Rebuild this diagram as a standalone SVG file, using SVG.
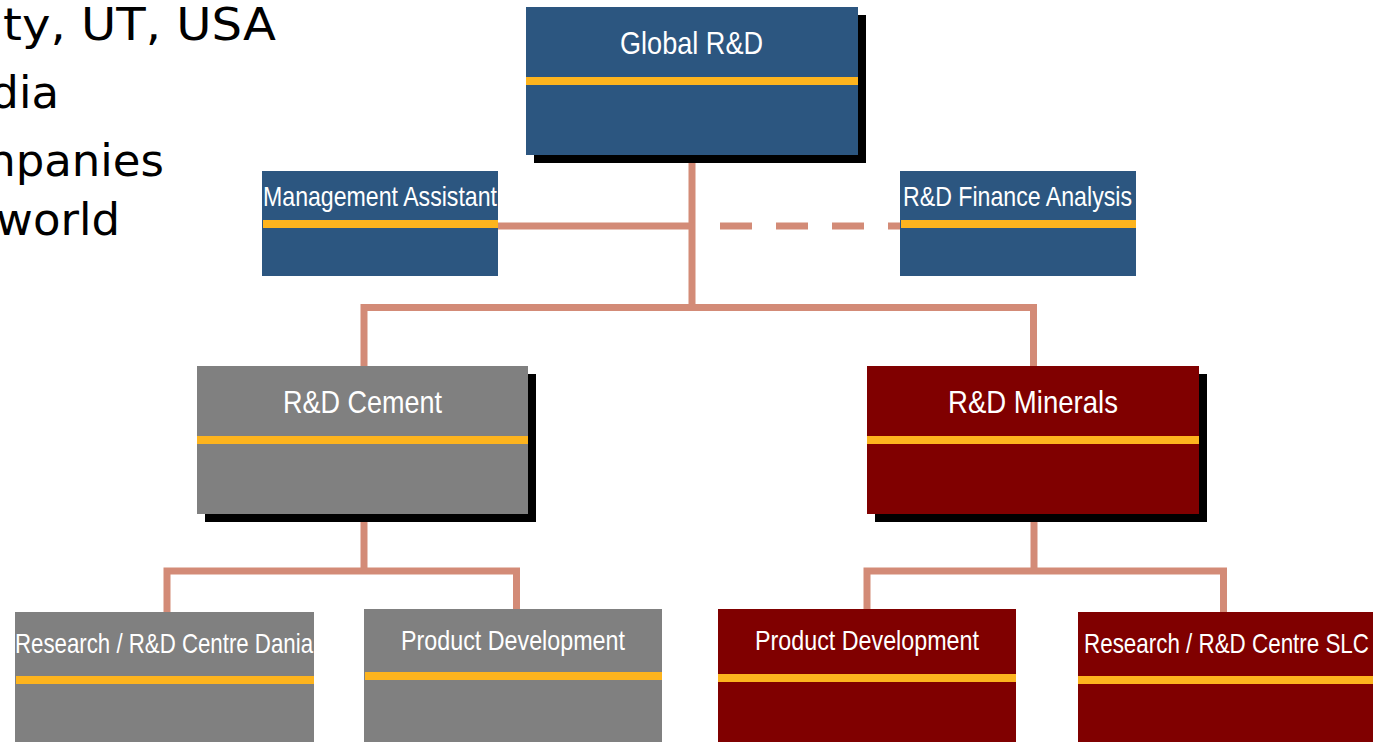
<svg xmlns="http://www.w3.org/2000/svg" width="1373" height="742" viewBox="0 0 1373 742">
<style>
.bg{font-family:"DejaVu Sans","Verdana",sans-serif;font-size:45px;fill:#000;text-anchor:end}
.lbl{font-family:"Liberation Sans Narrow","Arial Narrow","Liberation Sans",sans-serif;fill:#fff}
.big{font-size:32px}
.sm{font-size:28px}
.blue{fill:#2C5680}
.gray{fill:#808080}
.red{fill:#800000}
.shadow{fill:#000}
.bar{fill:#FDB41E}
.conn{stroke:#D38B77;stroke-width:7;fill:none;stroke-linecap:butt}
.dash{stroke-dasharray:32 24}
</style>
<rect width="1373" height="742" fill="#fff"/>
<g id="background-text">
<text class="bg" x="276" y="40" textLength="273" lengthAdjust="spacingAndGlyphs">ty, UT, USA</text>
<text class="bg" x="59" y="108">dia</text>
<text class="bg" x="164" y="176">npanies</text>
<text class="bg" x="120" y="235">world</text>
</g>
<g id="connectors">
<path class="conn" d="M692 155 V308"/>
<path class="conn" d="M498 226 H695"/>
<path class="conn dash" d="M720 226 H900"/>
<path class="conn" d="M364 366 V307.5 H1033.5 V366"/>
<path class="conn" d="M364 514 V571"/>
<path class="conn" d="M167 612 V571 H516.5 V609"/>
<path class="conn" d="M1034 514 V571"/>
<path class="conn" d="M867 609 V571 H1223.5 V612"/>
</g>
<g id="global-rd">
<rect class="shadow" x="534" y="15" width="332" height="148"/>
<rect class="blue" x="526" y="7" width="332" height="148"/>
<rect class="bar" x="526" y="77" width="332" height="8"/>
<text class="lbl big" x="691.5" y="54" text-anchor="middle" textLength="143" lengthAdjust="spacingAndGlyphs">Global R&amp;D</text>
</g>
<g id="management-assistant">
<rect class="blue" x="262" y="171" width="236" height="105"/>
<rect class="bar" x="263" y="220" width="235" height="8"/>
<text class="lbl sm" x="263" y="206" textLength="234" lengthAdjust="spacingAndGlyphs">Management Assistant</text>
</g>
<g id="finance-analysis">
<rect class="blue" x="900" y="171" width="236" height="105"/>
<rect class="bar" x="901" y="220" width="235" height="8"/>
<text class="lbl sm" x="903" y="206" textLength="229" lengthAdjust="spacingAndGlyphs">R&amp;D Finance Analysis</text>
</g>
<g id="rd-cement">
<rect class="shadow" x="205" y="374" width="331" height="148"/>
<rect class="gray" x="197" y="366" width="331" height="148"/>
<rect class="bar" x="197" y="436" width="331" height="8"/>
<text class="lbl big" x="362.5" y="413" text-anchor="middle" textLength="159" lengthAdjust="spacingAndGlyphs">R&amp;D Cement</text>
</g>
<g id="rd-minerals">
<rect class="shadow" x="875" y="374" width="332" height="148"/>
<rect class="red" x="867" y="366" width="332" height="148"/>
<rect class="bar" x="867" y="436" width="332" height="8"/>
<text class="lbl big" x="1033" y="413" text-anchor="middle" textLength="170" lengthAdjust="spacingAndGlyphs">R&amp;D Minerals</text>
</g>
<g id="centre-dania">
<rect class="gray" x="15" y="612" width="299" height="130"/>
<rect class="bar" x="16" y="676" width="298" height="8"/>
<text class="lbl sm" x="15" y="653" textLength="298" lengthAdjust="spacingAndGlyphs">Research / R&amp;D Centre Dania</text>
</g>
<g id="product-dev-cement">
<rect class="gray" x="364" y="609" width="298" height="133"/>
<rect class="bar" x="365" y="672" width="297" height="8"/>
<text class="lbl sm" x="513" y="650" text-anchor="middle" textLength="224" lengthAdjust="spacingAndGlyphs">Product Development</text>
</g>
<g id="product-dev-minerals">
<rect class="red" x="718" y="609" width="298" height="133"/>
<rect class="bar" x="718" y="674" width="298" height="8"/>
<text class="lbl sm" x="867" y="650" text-anchor="middle" textLength="224" lengthAdjust="spacingAndGlyphs">Product Development</text>
</g>
<g id="centre-slc">
<rect class="red" x="1078" y="612" width="295" height="130"/>
<rect class="bar" x="1078" y="676" width="295" height="8"/>
<text class="lbl sm" x="1084" y="653" textLength="285" lengthAdjust="spacingAndGlyphs">Research / R&amp;D Centre SLC</text>
</g>
</svg>
